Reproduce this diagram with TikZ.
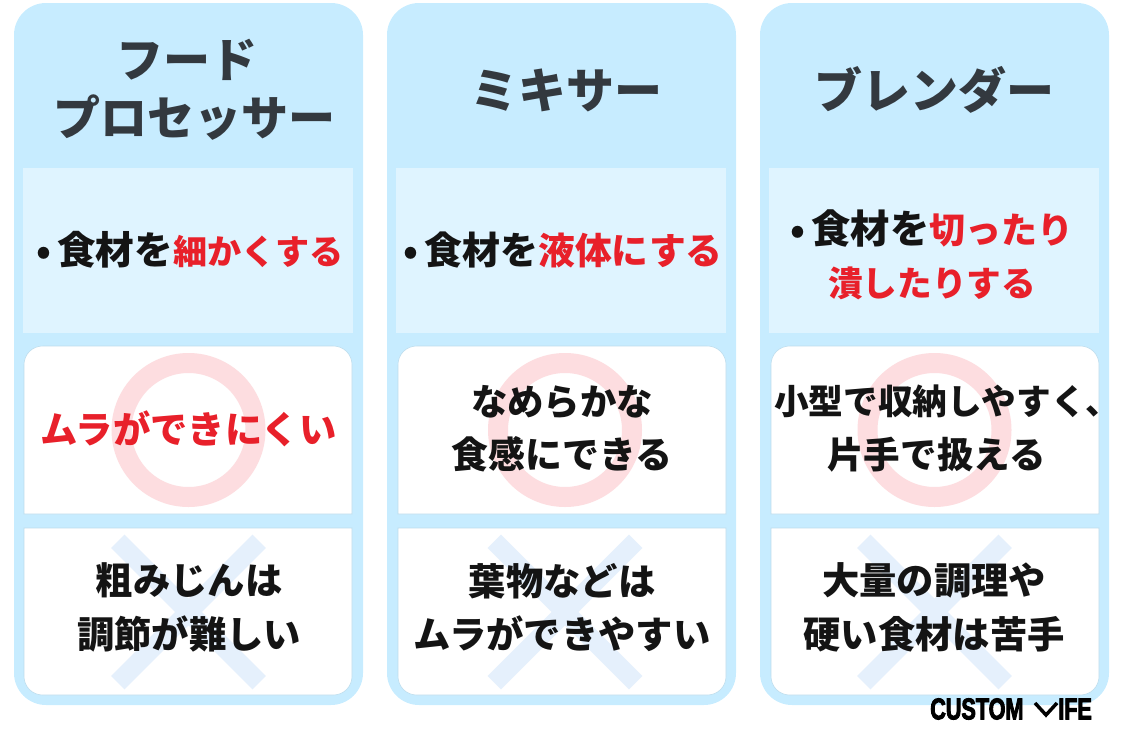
\documentclass[tikz,border=0pt]{standalone}
\usepackage{fontspec}
\setmainfont{Noto Sans CJK JP}
\newfontfamily\logofont[FakeStretch=0.72,BoldFeatures={FakeBold=3}]{Liberation Sans}
\usetikzlibrary{shapes.misc}

\definecolor{panelblue}{HTML}{C7ECFF}
\definecolor{lightblue}{HTML}{DFF4FF}
\definecolor{ringpink}{HTML}{FDDDE0}
\definecolor{crossblue}{HTML}{E5F0FC}
\definecolor{headgray}{HTML}{33393F}
\definecolor{bodyblack}{HTML}{141414}
\definecolor{accentred}{HTML}{E8202A}

\tikzstyle{panel} = [rectangle, rounded corners=24pt, minimum width=261.75pt, minimum height=526.5pt, fill=panelblue]
\tikzstyle{lightbox} = [rectangle, minimum width=247.5pt, minimum height=123.75pt, fill=lightblue]
\tikzstyle{ring} = [circle, minimum size=100.5pt, inner sep=0pt, line width=15pt, draw=ringpink]
\tikzstyle{nope} = [cross out, minimum size=106pt, inner sep=0pt, outer sep=0pt, line width=14.25pt, draw=crossblue]
\tikzstyle{card} = [fill=white, draw=panelblue!85!gray, line width=0.4pt]
\tikzstyle{headtext} = [text=headgray, align=center, font=\fontsize{36}{43.5}\selectfont\bfseries]
\tikzstyle{bodytext} = [text=bodyblack, align=center, font=\fontsize{28}{40}\selectfont\bfseries]
\tikzstyle{logotext} = [text=black, inner sep=0pt, font=\fontsize{22.5}{24}\logofont\bfseries]

\newcommand{\fs}[2]{{\fontsize{#1}{40}\selectfont #2}}
\newcommand{\hot}[2]{\textcolor{accentred}{\fs{#1}{#2}}}

\begin{document}
\begin{tikzpicture}[x=0.75pt, y=-0.75pt, node distance=279.75pt]
		\useasboundingbox (0,0) rectangle (1125,750);

		% columns
		\node (panel1) [panel] at (188.5,354) {};
		\node (panel2) [panel, right of= panel1] {};
		\node (panel3) [panel, right of= panel2] {};

		\node (light1) [lightbox] at (188,250.5) {};
		\node (light2) [lightbox, right of= light1] {};
		\node (light3) [lightbox, right of= light2] {};

		% white cards, top ones round on top, bottom ones round below
		\draw [card] (24,514) [rounded corners=14pt] -- (24,346) -- (352,346) [sharp corners] -- (352,514) -- cycle;
		\draw [card] (398,514) [rounded corners=14pt] -- (398,346) -- (726,346) [sharp corners] -- (726,514) -- cycle;
		\draw [card] (771,514) [rounded corners=14pt] -- (771,346) -- (1099,346) [sharp corners] -- (1099,514) -- cycle;
		\draw [card] (24,528) [rounded corners=14pt] -- (24,695) -- (352,695) [sharp corners] -- (352,528) -- cycle;
		\draw [card] (398,528) [rounded corners=14pt] -- (398,695) -- (726,695) [sharp corners] -- (726,528) -- cycle;
		\draw [card] (771,528) [rounded corners=14pt] -- (771,695) -- (1099,695) [sharp corners] -- (1099,528) -- cycle;

		\node (ring1) [ring] at (188.5,430) {};
		\node (ring2) [ring] at (565,430) {};
		\node (ring3) [ring] at (934.5,430) {};

		\node (nope1) [nope] at (188.5,612) {};
		\node (nope2) [nope] at (565,612) {};
		\node (nope3) [nope] at (934.5,612) {};

		% texts
		\node (head1) [headtext, font=\fontsize{35.3}{43.5}\selectfont\bfseries] at (194.5,90) {フード\hspace*{11pt}\\プロセッサー};
		\node (head2) [headtext, right of= head1, xshift=-1pt] {ミキサー};
		\node (head3) [headtext, right of= head2, xshift=-3.6pt] {ブレンダー};

		\node (use1) [bodytext] at (190,250) {•\,\fs{29}{食材を}\hot{25.6}{細かくする}};
		\node (use2) [bodytext, right of= use1] {•\,\fs{28.5}{食材を}\hot{27.6}{液体にする}};
		\node (use3) [bodytext] at (932,254.5) {•\,\fs{29.5}{食材を}\hot{27}{切ったり}\\\hot{26}{潰したりする}};

		\node (good1) [bodytext, text=accentred] at (188.5,429) {ムラができにくい};
		\node (good2) [bodytext] at (562,428.5) {\fs{27.3}{なめらかな}\\\fs{27.7}{食感にできる}};
		\node (good3) [bodytext] at (936.5,428.5) {\hspace*{16pt}\fs{26}{小型で収納しやすく、}\\\fs{27.4}{片手で扱える}};

		\node (bad1) [bodytext] at (189,607.5) {粗みじんは\\調節が難しい};
		\node (bad2) [bodytext] at (562,607.5) {葉物などは\\ムラができやすい};
		\node (bad3) [bodytext] at (934,607.5) {大量の調理や\\硬い食材は苦手};

		% logo
		\node (logoa) [logotext, anchor=west] at (930,709) {CUSTOM};
		\node (logob) [logotext, anchor=west] at (1058,709) {IFE};
		\draw [line width=2.6pt] (1035,703) -- (1046,715) -- (1057,703);
		\end{tikzpicture}
\end{document}
